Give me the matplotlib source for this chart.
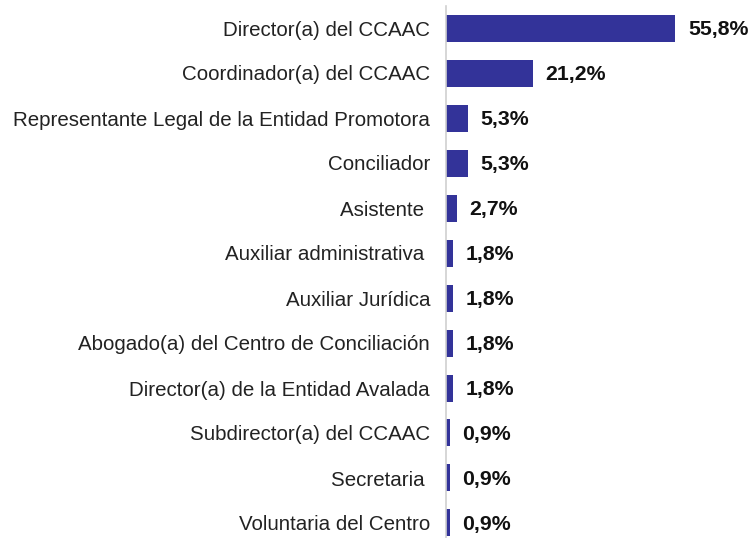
import matplotlib.pyplot as plt

cargos = [
    'Director(a) del CCAAC',
    'Coordinador(a) del CCAAC',
    'Representante Legal de la Entidad Promotora',
    'Conciliador',
    'Asistente ',
    'Auxiliar administrativa ',
    'Auxiliar Jurídica',
    'Abogado(a) del Centro de Conciliación',
    'Director(a) de la Entidad Avalada',
    'Subdirector(a) del CCAAC',
    'Secretaria ',
    'Voluntaria del Centro',
]
porcentajes = [55.8, 21.2, 5.3, 5.3, 2.7, 1.8, 1.8, 1.8, 1.8, 0.9, 0.9, 0.9]

plt.rcParams['font.family'] = ['Liberation Sans', 'DejaVu Sans']

W, H = 749, 538
fig = plt.figure(figsize=(W / 100, H / 100), dpi=100)
# axes placed in pixel terms: spine at x=446, rows 45 px apart
ax = fig.add_axes([446 / W, -7.5 / H, 300 / W, 540 / H])

y = list(range(len(cargos)))
ax.barh(y, porcentajes, height=0.6, color='#333399')
ax.set_ylim(len(cargos) - 0.5, -0.5)
ax.set_xlim(0, 300 / 4.11)

ax.set_yticks(y)
ax.set_yticklabels(cargos, fontsize=14.8, color='#222222')
ax.tick_params(axis='y', length=0, pad=11.5)
ax.set_xticks([])

for side in ['top', 'right', 'bottom']:
    ax.spines[side].set_visible(False)
ax.spines['left'].set_color('#d0d0d0')
ax.spines['left'].set_linewidth(1.2)

for yi, v in zip(y, porcentajes):
    ax.annotate(f'{v:.1f}%'.replace('.', ','), (v, yi), xytext=(9, -1.2),
                textcoords='offset points', va='center', ha='left',
                fontsize=15.3, fontweight='bold', color='#111111')

plt.savefig('out.png', dpi=100)
